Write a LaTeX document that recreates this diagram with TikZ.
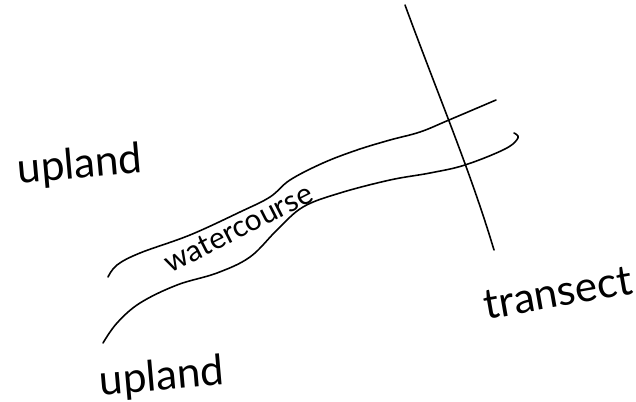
\documentclass[tikz,border=0pt]{standalone}
\usepackage{fontspec}
\setmainfont{Lato}
\begin{document}
\begin{tikzpicture}[x=0.02cm,y=-0.02cm]
\tikzset{pen/.style={line width=0.9pt,line cap=round,line join=round},
  hand/.style={font=\fontsize{24}{26}\selectfont,inner sep=0pt}}
\useasboundingbox (0,0) rectangle (636,402);
% transect
\coordinate (ttop) at (405,5);
\coordinate (tbot) at (494,250);
\draw[pen] (ttop) .. controls (440,100) and (470,170) .. (tbot);
% banks of the watercourse
\draw[pen] plot[smooth,tension=0.6] coordinates {(108,277) (117,265) (140,253) (190,235)
  (240,212) (270,197) (290,180) (323,163) (357,150) (390,140) (420,132) (449,120) (496,100)};
\draw[pen] plot[smooth,tension=0.6] coordinates {(103,343) (117,323) (140,303) (177,285)
  (217,273) (250,257) (277,230) (303,207) (340,193) (390,180) (430,173) (465,165)
  (505,149) (518,138) (514,133)};
% labels
\node[hand,rotate=5] (upl1) at (80,166) {upland};
\node[hand,font=\fontsize{17}{19}\selectfont,rotate=27,anchor=base] (water) at (243,237) {watercourse};
\node[hand,rotate=10] (trans) at (558,293) {transect};
\node[hand,rotate=5] (upl2) at (162,378) {upland};
\end{tikzpicture}
\end{document}
